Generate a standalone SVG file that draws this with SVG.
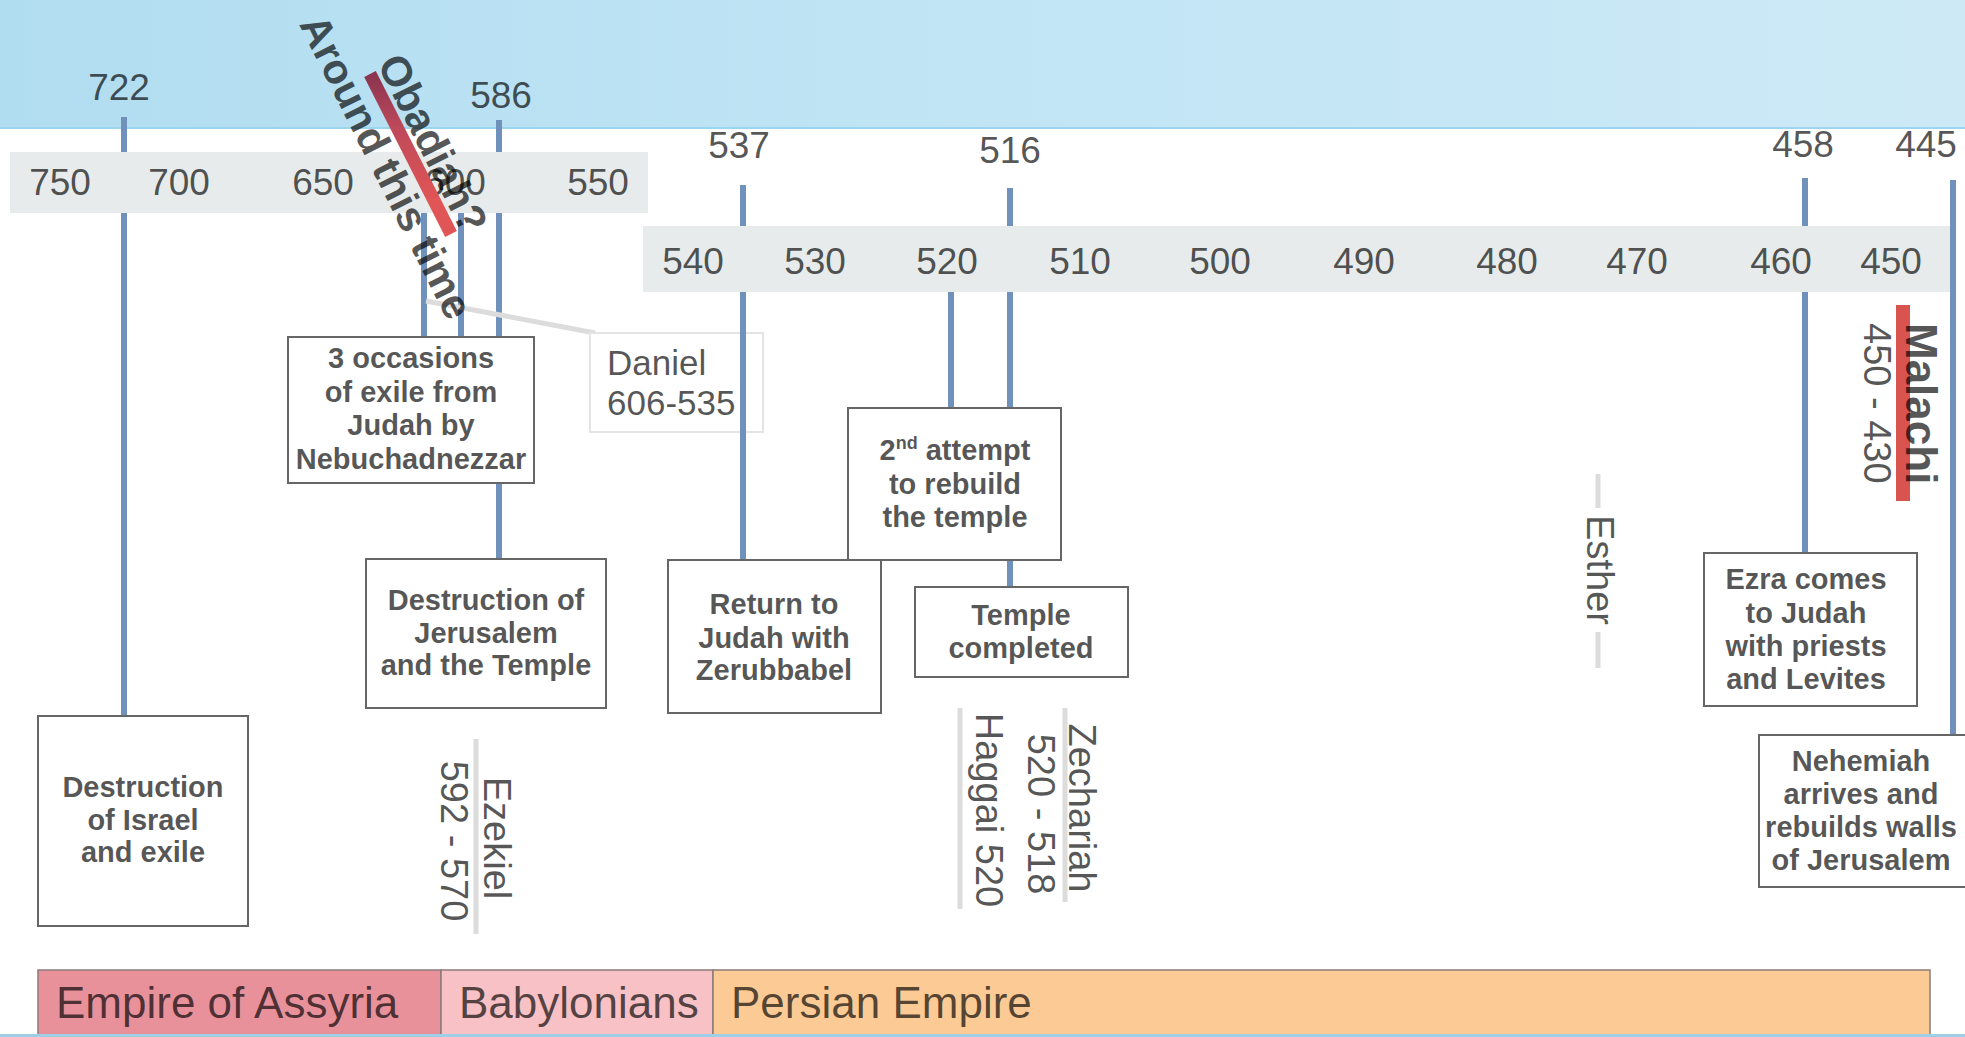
<svg xmlns="http://www.w3.org/2000/svg" width="1965" height="1037" viewBox="0 0 1965 1037">
<defs>
<linearGradient id="sky" x1="0" y1="0" x2="1" y2="0">
<stop offset="0" stop-color="#b1ddf0"/><stop offset="0.5" stop-color="#c1e5f5"/><stop offset="1" stop-color="#cde9f6"/>
</linearGradient>
<linearGradient id="oba" gradientUnits="userSpaceOnUse" x1="0" y1="74" x2="0" y2="200">
<stop offset="0" stop-color="#8a3450"/><stop offset="0.45" stop-color="#c04a5a"/><stop offset="1" stop-color="#e05555"/>
</linearGradient>
<style>
.ln{stroke:#7191bd;stroke-width:6;fill:none}
.gl{stroke:#dcdcdc;stroke-width:5;fill:none}
.box{fill:#fff;stroke:#666;stroke-width:2}
.band{fill:#e7ebeb}
.t{font-family:"Liberation Sans",Arial,sans-serif;fill:#000;fill-opacity:.68}
.bt{font-weight:bold;font-size:29px;text-anchor:middle}
.ax{font-size:37px;text-anchor:middle}
.rt{font-size:38px}
.emp{font-size:44px}
.eb{stroke:#8c7b7b;stroke-width:1.5}
</style>
</defs>
<rect x="0" y="0" width="1965" height="1037" fill="#fff"/>
<g id="background">
<rect x="0" y="0" width="1965" height="129" fill="url(#sky)"/>
<rect x="0" y="127" width="1965" height="2" fill="#9cd6ee"/>
<rect class="band" x="10" y="152" width="638" height="61"/>
<rect class="band" x="643" y="226" width="1307" height="66"/>
</g>
<g id="axis-labels" class="t ax">
<text x="60" y="195">750</text><text x="179" y="195">700</text><text x="323" y="195">650</text><text x="455" y="195">600</text><text x="598" y="195">550</text>
<text x="693" y="274">540</text><text x="815" y="274">530</text><text x="947" y="274">520</text><text x="1080" y="274">510</text><text x="1220" y="274">500</text><text x="1364" y="274">490</text><text x="1507" y="274">480</text><text x="1637" y="274">470</text><text x="1781" y="274">460</text><text x="1891" y="274">450</text>
<text x="119" y="100">722</text><text x="501" y="108">586</text><text x="739" y="158">537</text><text x="1010" y="163">516</text><text x="1803" y="157">458</text><text x="1926" y="157">445</text>
</g>
<g id="connectors">
<line class="ln" x1="124" y1="117" x2="124" y2="152"/><line class="ln" x1="124" y1="213" x2="124" y2="716"/>
<line class="ln" x1="499" y1="120" x2="499" y2="152"/><line class="ln" x1="499" y1="213" x2="499" y2="337"/><line class="ln" x1="499" y1="483" x2="499" y2="559"/>
<line class="ln" x1="424" y1="213" x2="424" y2="337"/><line class="ln" x1="461" y1="213" x2="461" y2="337"/>
<line class="gl" x1="426" y1="301" x2="595" y2="333"/>
<line class="ln" x1="743" y1="185" x2="743" y2="226"/>
<line class="ln" x1="951" y1="292" x2="951" y2="408"/>
<line class="ln" x1="1010" y1="188" x2="1010" y2="226"/><line class="ln" x1="1010" y1="292" x2="1010" y2="408"/><line class="ln" x1="1010" y1="560" x2="1010" y2="587"/>
<line class="ln" x1="1805" y1="178" x2="1805" y2="226"/><line class="ln" x1="1805" y1="292" x2="1805" y2="553"/>
<line class="ln" x1="1953" y1="180" x2="1953" y2="735"/>
</g>
<g id="daniel">
<rect x="590" y="333" width="173" height="99" fill="#fff" stroke="#e4e4e4" stroke-width="2"/>
<text class="t" font-size="35" x="607" y="375">Daniel</text>
<text class="t" font-size="35" x="607" y="415">606-535</text>
</g>
<line class="ln" x1="743" y1="292" x2="743" y2="560"/>
<g id="obadiah">
<line x1="370" y1="74" x2="451" y2="234" stroke="url(#oba)" stroke-width="13"/>
<text class="t" font-weight="bold" font-size="42" text-anchor="middle" fill-opacity=".72" transform="translate(420,150) rotate(63.4)"><tspan x="0" y="0">Obadiah?</tspan><tspan x="0" y="52">Around this time</tspan></text>
</g>
<g id="n-israel"><rect class="box" x="38" y="716" width="210" height="210"/>
<text class="t bt"><tspan x="143" y="797">Destruction</tspan><tspan x="143" y="830">of Israel</tspan><tspan x="143" y="862">and exile</tspan></text></g>
<g id="n-exile"><rect class="box" x="288" y="337" width="246" height="146"/>
<text class="t bt"><tspan x="411" y="368">3 occasions</tspan><tspan x="411" y="402">of exile from</tspan><tspan x="411" y="435">Judah by</tspan><tspan x="411" y="469">Nebuchadnezzar</tspan></text></g>
<g id="n-jerusalem"><rect class="box" x="366" y="559" width="240" height="149"/>
<text class="t bt"><tspan x="486" y="610">Destruction of</tspan><tspan x="486" y="643">Jerusalem</tspan><tspan x="486" y="675">and the Temple</tspan></text></g>
<g id="n-return"><rect class="box" x="668" y="560" width="213" height="153"/>
<text class="t bt"><tspan x="774" y="614">Return to</tspan><tspan x="774" y="648">Judah with</tspan><tspan x="774" y="680">Zerubbabel</tspan></text></g>
<g id="n-attempt"><rect class="box" x="848" y="408" width="213" height="152"/>
<text class="t bt"><tspan x="955" y="460">2<tspan font-size="18" dy="-11">nd</tspan><tspan dy="11"> attempt</tspan></tspan><tspan x="955" y="494">to rebuild</tspan><tspan x="955" y="527">the temple</tspan></text></g>
<g id="n-completed"><rect class="box" x="915" y="587" width="213" height="90"/>
<text class="t bt"><tspan x="1021" y="625">Temple</tspan><tspan x="1021" y="658">completed</tspan></text></g>
<g id="n-ezra"><rect class="box" x="1704" y="553" width="213" height="153"/>
<text class="t bt"><tspan x="1806" y="589">Ezra comes</tspan><tspan x="1806" y="623">to Judah</tspan><tspan x="1806" y="656">with priests</tspan><tspan x="1806" y="689">and Levites</tspan></text></g>
<g id="n-nehemiah"><rect class="box" x="1759" y="735" width="215" height="152"/>
<text class="t bt"><tspan x="1861" y="771">Nehemiah</tspan><tspan x="1861" y="804">arrives and</tspan><tspan x="1861" y="837">rebuilds walls</tspan><tspan x="1861" y="870">of Jerusalem</tspan></text></g>
<g id="malachi">
<rect x="1896" y="305" width="14" height="196" fill="#d9534f"/>
<text class="t" font-weight="bold" font-size="44" transform="translate(1906,323) rotate(90)">Malachi</text>
<text class="t rt" transform="translate(1864,323) rotate(90)">450 - 430</text>
</g>
<g id="esther">
<line class="gl" x1="1598" y1="474" x2="1598" y2="508"/><line class="gl" x1="1598" y1="632" x2="1598" y2="668"/>
<text class="t rt" text-anchor="middle" transform="translate(1587,570) rotate(90)">Esther</text>
</g>
<g id="ezekiel">
<line class="gl" x1="476" y1="739" x2="476" y2="934"/>
<text class="t rt" text-anchor="middle" transform="translate(484,838) rotate(90)">Ezekiel</text>
<text class="t rt" text-anchor="middle" transform="translate(441,841) rotate(90)">592 - 570</text>
</g>
<g id="haggai">
<line class="gl" x1="960" y1="708" x2="960" y2="909"/>
<text class="t rt" text-anchor="middle" transform="translate(976,810) rotate(90)">Haggai 520</text>
</g>
<g id="zechariah">
<line class="gl" x1="1065" y1="708" x2="1065" y2="902"/>
<text class="t rt" text-anchor="middle" transform="translate(1069,808) rotate(90)">Zechariah</text>
<text class="t rt" text-anchor="middle" transform="translate(1028,814) rotate(90)">520 - 518</text>
</g>
<g id="empires">
<rect class="eb" x="38" y="970" width="403" height="70" fill="#e8919b"/>
<rect class="eb" x="441" y="970" width="272" height="70" fill="#f8c1c5"/>
<rect class="eb" x="713" y="970" width="1217" height="70" fill="#fccb95"/>
<rect x="0" y="1034" width="1965" height="3" fill="#9fcfe6"/>
<text class="t emp" x="56" y="1018">Empire of Assyria</text>
<text class="t emp" x="459" y="1018">Babylonians</text>
<text class="t emp" x="731" y="1018">Persian Empire</text>
</g>
</svg>
